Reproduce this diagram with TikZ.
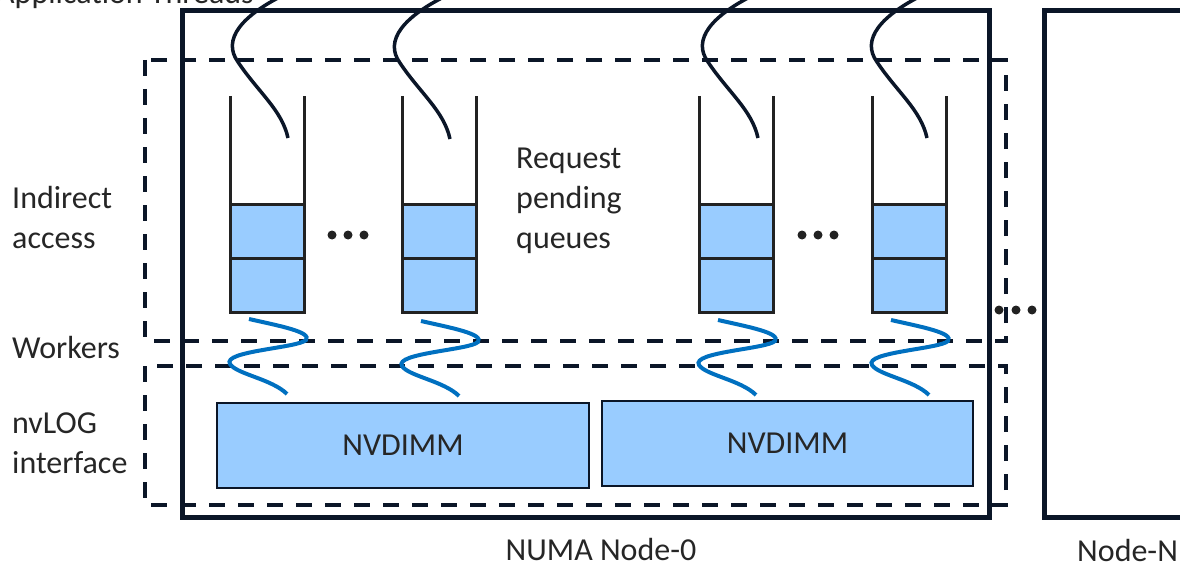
\documentclass[tikz,border=0pt]{standalone}
\usepackage{fontspec}
\setmainfont{Carlito}
\definecolor{navy}{HTML}{0B1628}
\definecolor{wall}{HTML}{222222}
\definecolor{cellblue}{HTML}{99CCFF}
\definecolor{workerblue}{HTML}{0070C0}
\definecolor{txt}{HTML}{262626}
\begin{document}
\begin{tikzpicture}[x=1pt,y=-1pt,
  font=\fontsize{32}{40}\selectfont, text=txt,
  numabox/.style={draw=navy,line width=5pt},
  dashbox/.style={draw=navy,line width=3.4pt,dash pattern=on 16pt off 13pt},
  wallline/.style={draw=wall,line width=3pt},
  cell/.style={draw=wall,line width=3pt,fill=cellblue},
  threadline/.style={draw=navy,line width=3.5pt},
  workerline/.style={draw=workerblue,line width=4pt},
  nvbox/.style={draw=navy,line width=2pt,fill=cellblue,inner sep=0pt},
  lbl/.style={inner sep=0pt,align=left},
  dot/.style={circle,fill=wall,inner sep=0pt,minimum size=9pt},
  queue/.pic={
    \path[cell] (0,108) rectangle (74,162);
    \path[cell] (0,162) rectangle (74,216);
    \draw[wallline] (0,0) -- (0,216) -- (74,216) -- (74,0);
  },
  thread/.pic={
    \draw[threadline] (4,-147) .. controls (-48,-123) and (-66,-98) .. (-50,-76)
      .. controls (-30,-46) and (-6,-28) .. (0,0);
  },
  worker/.pic={
    \draw[workerline] (19,0) .. controls (50,7) and (82,13) .. (76,21)
      .. controls (68,29) and (-8,32) .. (0,45)
      .. controls (6,55) and (42,60) .. (57,75);
  }
]
\useasboundingbox (0,0) rectangle (1180,567);
\clip (0,0) rectangle (1180,567);

% NUMA boxes
\draw[numabox] (182,11) rectangle (989,517);
\draw[numabox] (1044,11) rectangle (1200,517);

% dashed regions
\draw[dashbox] (145,60) rectangle (1006,341);
\draw[dashbox] (145,366) rectangle (1006,505);

% queues
\pic (q1) at (230,96) {queue};
\pic (q2) at (402,96) {queue};
\pic (q3) at (699,96) {queue};
\pic (q4) at (872,96) {queue};

% dots
\node[dot] (d1a) at (332,235) {};
\node[dot] (d1b) at (348,235) {};
\node[dot] (d1c) at (364,235) {};
\node[dot] (d2a) at (802,235) {};
\node[dot] (d2b) at (818,235) {};
\node[dot] (d2c) at (834,235) {};
\node[dot] (d3a) at (999,310) {};
\node[dot] (d3b) at (1016,310) {};
\node[dot] (d3c) at (1032,310) {};

% application threads
\pic (t1) at (288,138) {thread};
\pic (t2) at (450,139) {thread};
\pic (t3) at (758,138) {thread};
\pic (t4) at (927,138) {thread};

% workers
\pic (w1) at (230,319) {worker};
\pic (w2) at (402,321) {worker};
\pic (w3) at (699,320) {worker};
\pic (w4) at (872,320) {worker};

% NVDIMMs
\node[nvbox,minimum width=372pt,minimum height=85pt,anchor=north west] (nv1) at (216,402) {NVDIMM};
\node[nvbox,minimum width=371pt,minimum height=85pt,anchor=north west] (nv2) at (601,400) {NVDIMM};

% labels
\node[lbl,anchor=base east] (app) at (254,4) {Application Threads};
\node[lbl,anchor=west] (ind) at (12,218) {Indirect\\access};
\node[lbl,anchor=west] (wrk) at (12,348) {Workers};
\node[lbl,anchor=west] (nvl) at (12,443) {nvLOG\\interface};
\node[lbl,anchor=west] (rpq) at (516,201) {Request\\pending\\queues};
\node[lbl] (numa) at (601,550) {NUMA Node-0};
\node[lbl,anchor=west] (noden) at (1077,550) {Node-N};
\end{tikzpicture}
\end{document}
